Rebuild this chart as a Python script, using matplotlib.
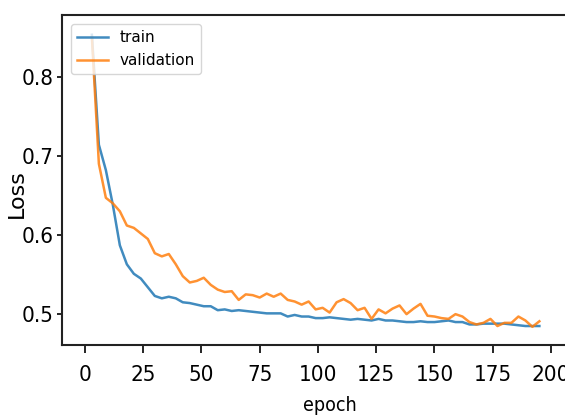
import numpy as np
import matplotlib
matplotlib.use("Agg")
import matplotlib.pyplot as plt

# loss logged every 3 epochs
epochs = np.arange(3, 198, 3)

train_loss = [
    0.853, 0.714, 0.682, 0.638, 0.587, 0.563, 0.551, 0.545, 0.534, 0.523,
    0.520, 0.522, 0.520, 0.515, 0.514, 0.512, 0.510, 0.510, 0.505, 0.506,
    0.504, 0.505, 0.504, 0.503, 0.502, 0.501, 0.501, 0.501, 0.497, 0.499,
    0.497, 0.497, 0.495, 0.495, 0.496, 0.495, 0.494, 0.493, 0.494, 0.493,
    0.492, 0.494, 0.492, 0.492, 0.491, 0.490, 0.490, 0.491, 0.490, 0.490,
    0.491, 0.492, 0.490, 0.490, 0.487, 0.487, 0.488, 0.488, 0.488, 0.488,
    0.487, 0.486, 0.485, 0.485, 0.485,
]

val_loss = [
    0.850, 0.690, 0.647, 0.640, 0.630, 0.612, 0.609, 0.602, 0.595, 0.577,
    0.573, 0.576, 0.563, 0.548, 0.540, 0.542, 0.546, 0.537, 0.531, 0.528,
    0.529, 0.518, 0.525, 0.524, 0.521, 0.526, 0.522, 0.526, 0.518, 0.516,
    0.512, 0.516, 0.506, 0.508, 0.502, 0.515, 0.519, 0.514, 0.505, 0.508,
    0.494, 0.506, 0.501, 0.507, 0.511, 0.500, 0.507, 0.513, 0.498, 0.497,
    0.495, 0.494, 0.500, 0.497, 0.490, 0.487, 0.489, 0.494, 0.485, 0.489,
    0.489, 0.497, 0.492, 0.484, 0.491,
]

fig = plt.figure(figsize=(5.65, 4.18), dpi=100)
# axes runs past the right edge, like the cropped original
ax = fig.add_axes([0.1092, 0.1746, 0.903, 0.7895])

ax.plot(epochs, train_loss, color='#1f77b4', lw=1.8, alpha=0.85, label='train')
ax.plot(epochs, val_loss, color='#ff7f0e', lw=1.8, alpha=0.85, label='validation')

ax.set_xlim(-9.95, 208.95)
ax.set_ylim(0.461, 0.878)
ax.set_xticks(np.arange(0, 201, 25))
ax.set_yticks([0.5, 0.6, 0.7, 0.8])

for s in ax.spines.values():
    s.set_linewidth(1.5)
    s.set_color('#222222')

ax.tick_params(axis='x', length=5.5, width=1.2, pad=9)
ax.tick_params(axis='y', length=3.6, width=1.2, pad=2.5)
for lab in ax.get_xticklabels() + ax.get_yticklabels():
    lab.set_family('DejaVu Sans')
    lab.set_stretch('condensed')
    lab.set_fontsize(16)

ax.set_ylabel('Loss', fontsize=16)
ax.yaxis.set_label_coords(-0.068, 0.459)
ax.set_xlabel('epoch', fontsize=14, stretch='condensed')
ax.xaxis.set_label_coords(0.525, -0.155)

ax.legend(loc='upper left', fontsize=11, borderaxespad=0.6)

fig.savefig('out.png', dpi=100)
